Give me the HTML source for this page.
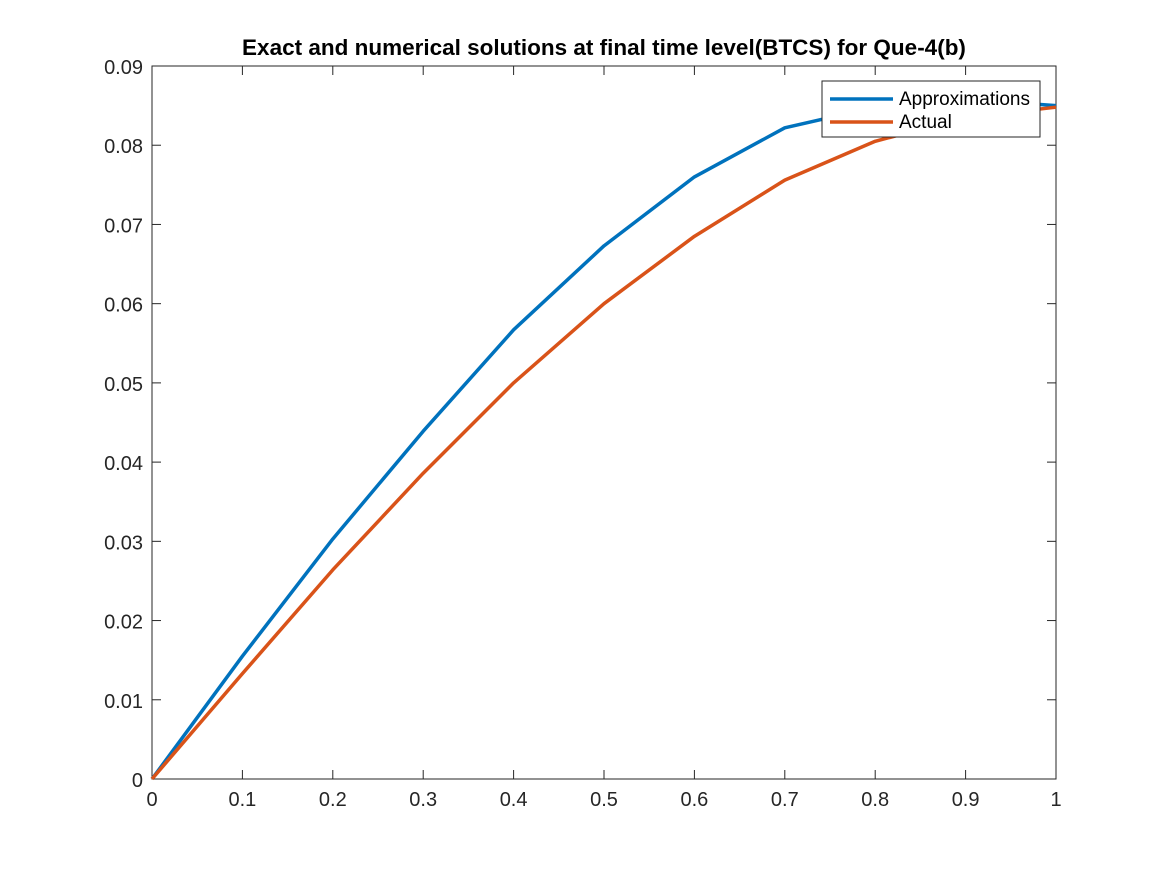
<!DOCTYPE html>
<html><head><meta charset="utf-8"><style>
body{margin:0;background:#fff}
svg text{font-family:"Liberation Sans",Arial,sans-serif;fill:#262626}
</style></head><body>
<svg id="chart" width="1167" height="875" xmlns="http://www.w3.org/2000/svg">
<rect width="1167" height="875" fill="#fff"/>
<text x="604" y="55" text-anchor="middle" font-size="22.5" font-weight="bold" style="fill:#000">Exact and numerical solutions at final time level(BTCS) for Que-4(b)</text>
<g id="axes"></g>
<g id="series"></g>
<g>
<rect x="822" y="81" width="218" height="56" fill="#fff" stroke="#262626" stroke-width="1"/>
<line x1="830" y1="99" x2="893" y2="99" stroke="#0072BD" stroke-width="3.5"/>
<text x="899" y="105" font-size="19" style="fill:#000">Approximations</text>
<line x1="830" y1="122" x2="893" y2="122" stroke="#D95319" stroke-width="3.5"/>
<text x="899" y="128" font-size="19" style="fill:#000">Actual</text>
</g>
</svg>
<script>
const xValues=[0,0.1,0.2,0.3,0.4,0.5,0.6,0.7,0.8,0.9,1.0];
const approxValues=[0,0.0155,0.0303,0.0439,0.0567,0.0673,0.0760,0.0822,0.0848,0.0858,0.0850];
const actualValues=[0,0.0133,0.0264,0.0386,0.0500,0.0600,0.0685,0.0756,0.0805,0.0835,0.0848];
const xTicks=[0,0.1,0.2,0.3,0.4,0.5,0.6,0.7,0.8,0.9,1];
const yTicks=[0,0.01,0.02,0.03,0.04,0.05,0.06,0.07,0.08,0.09];
const L=152,R=1056,T=66,B=779;
const sx=v=>L+(v-0)/(1-0)*(R-L);
const sy=v=>B-(v-0)/(0.09-0)*(B-T);
const NS="http://www.w3.org/2000/svg";
const axes=document.getElementById('axes'),series=document.getElementById('series');
function mk(tag,attrs,parent){const e=document.createElementNS(NS,tag);for(const k in attrs)e.setAttribute(k,attrs[k]);parent.appendChild(e);return e;}
const box=mk('rect',{x:L,y:T,width:R-L,height:B-T,fill:'none',stroke:'#262626','stroke-width':1},axes);


xTicks.forEach(t=>{const x=sx(t);
mk('line',{x1:x,y1:B,x2:x,y2:B-9,stroke:'#262626'},axes);
mk('line',{x1:x,y1:T,x2:x,y2:T+9,stroke:'#262626'},axes);
const tx=mk('text',{x:x,y:B+27,'text-anchor':'middle','font-size':20},axes);tx.textContent=String(t);

});
yTicks.forEach(t=>{const y=sy(t);
mk('line',{x1:L,y1:y,x2:L+9,y2:y,stroke:'#262626'},axes);
mk('line',{x1:R,y1:y,x2:R-9,y2:y,stroke:'#262626'},axes);
const tx=mk('text',{x:L-9,y:y+8,'text-anchor':'end','font-size':20},axes);tx.textContent=t===0?'0':t.toFixed(2);

});
function line(vals,color,name){const p=mk('polyline',{points:xValues.map((x,i)=>sx(x)+','+sy(vals[i])).join(' '),fill:'none',stroke:color,'stroke-width':3.5,'stroke-linejoin':'round'},series);

}
line(approxValues,'#0072BD','approximations-line');
line(actualValues,'#D95319','actual-line');
</script>
</body></html>
